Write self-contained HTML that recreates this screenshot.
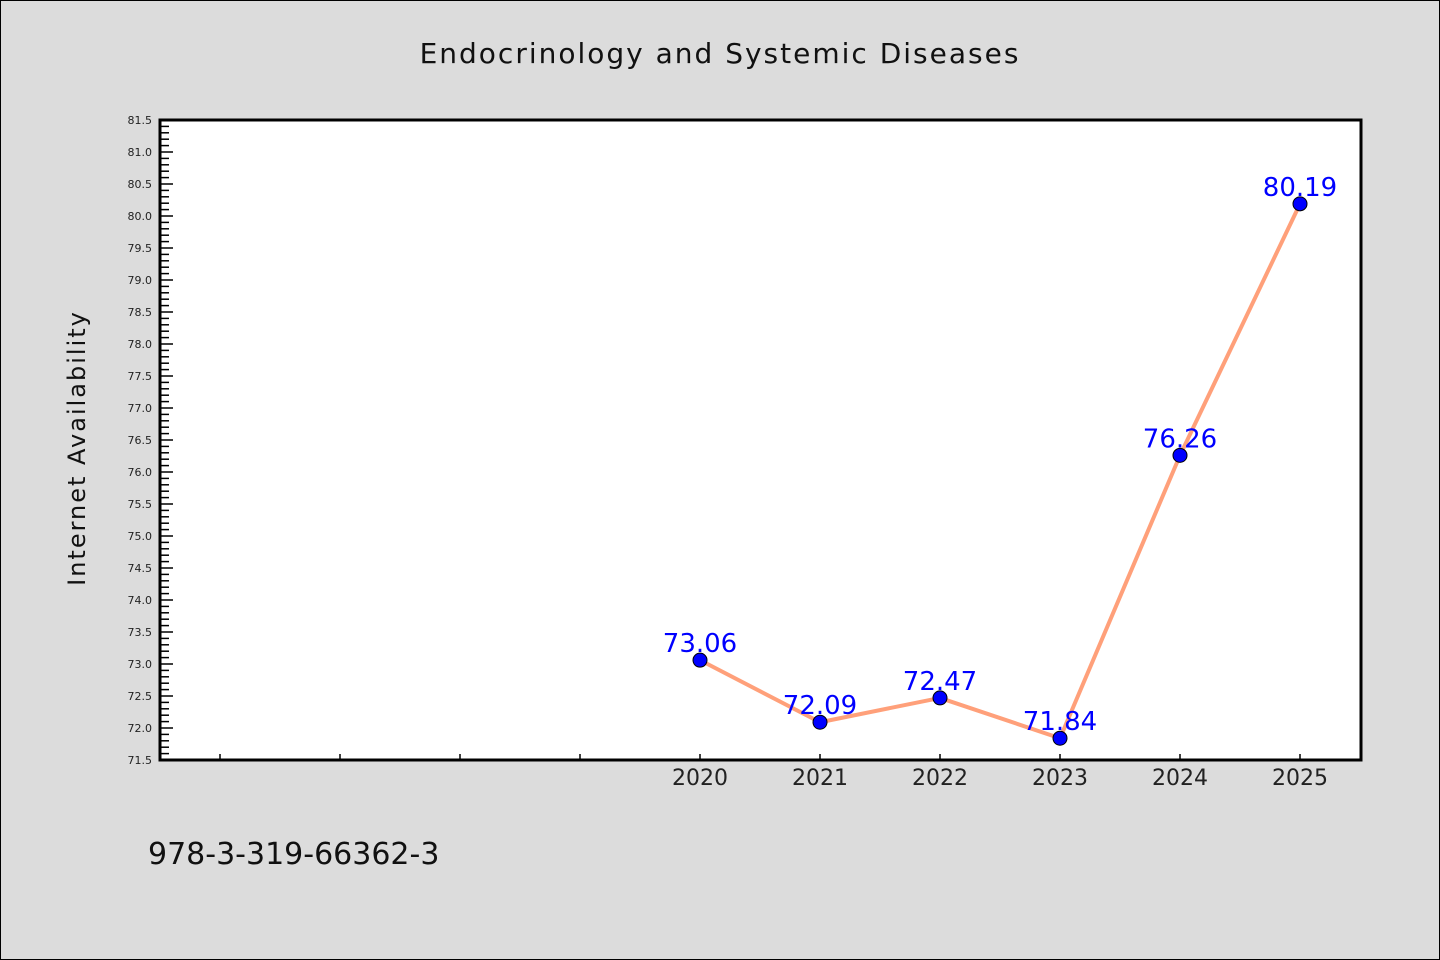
<!DOCTYPE html>
<html><head><meta charset="utf-8"><style>
body{margin:0;background:#dcdcdc;}
svg{display:block;font-family:"DejaVu Sans","Liberation Sans",sans-serif;}
</style></head><body>
<svg id="chart" width="1440" height="960" viewBox="0 0 1440 960">
<rect x="0.5" y="0.5" width="1439" height="959" fill="#dcdcdc" stroke="#000" stroke-width="1"/>
<text x="720" y="63" text-anchor="middle" font-size="28" fill="#111" letter-spacing="2">Endocrinology and Systemic Diseases</text>
<rect x="160" y="120" width="1201" height="640" fill="#fff"/>
<g id="grid"></g>
<text transform="translate(85,448) rotate(-90)" text-anchor="middle" font-size="24" fill="#111" letter-spacing="2">Internet Availability</text>
<text x="148" y="864" font-size="30" fill="#111">978-3-319-66362-3</text>
</svg>
<script>
const categories=["2020","2021","2022","2023","2024","2025"];
const values=[73.06,72.09,72.47,71.84,76.26,80.19];
const valueLabels=["73.06","72.09","72.47","71.84","76.26","80.19"];
const yMin=71.5,yMax=81.5;
const ns="http://www.w3.org/2000/svg";
const svg=document.getElementById('chart');
const g=document.getElementById('grid');
const L=160,R=1361,T=120,B=760;
function y(v){return B-(v-yMin)/(yMax-yMin)*(B-T);}
function x(i){return 700+i*120;}
function mk(t,a,p){const e=document.createElementNS(ns,t);for(const k in a)e.setAttribute(k,a[k]);(p||g).appendChild(e);return e;}
for(let k=0;k<=100;k++){
  const v=yMin+k*0.1;const yy=y(v);const major=k%5===0;
  const t=mk('line',{x1:L,x2:L+(major?13:9),y1:yy,y2:yy,stroke:'#000','stroke-width':1.5});
  
  
  if(major){const l=mk('text',{x:L-8,y:yy+4,'text-anchor':'end','font-size':11,fill:'#222'});l.textContent=v.toFixed(1);
  
  }
}
for(let i=-4;i<categories.length;i++){
  const t=mk('line',{x1:x(i),x2:x(i),y1:B,y2:B-6,stroke:'#000','stroke-width':1.5});
  
  
}
categories.forEach((c,i)=>{const l=mk('text',{x:x(i),y:B+25,'text-anchor':'middle','font-size':22,fill:'#222'});l.textContent=c;

});
const fr=mk('rect',{x:L,y:T,width:R-L,height:B-T,fill:'none',stroke:'#000','stroke-width':3});


const pl=mk('polyline',{points:values.map((v,i)=>x(i)+','+y(v)).join(' '),fill:'none',stroke:'#ffa07a','stroke-width':4,'stroke-linejoin':'round'});


values.forEach((v,i)=>{
  const c=mk('circle',{cx:x(i),cy:y(v),r:7,fill:'#0000ff',stroke:'#000','stroke-width':1});
  
  
  const t=mk('text',{x:x(i),y:y(v)-8,'text-anchor':'middle','font-size':26,fill:'#0000ff'});
  t.textContent=valueLabels[i];
  
  
});
</script>
</body></html>
